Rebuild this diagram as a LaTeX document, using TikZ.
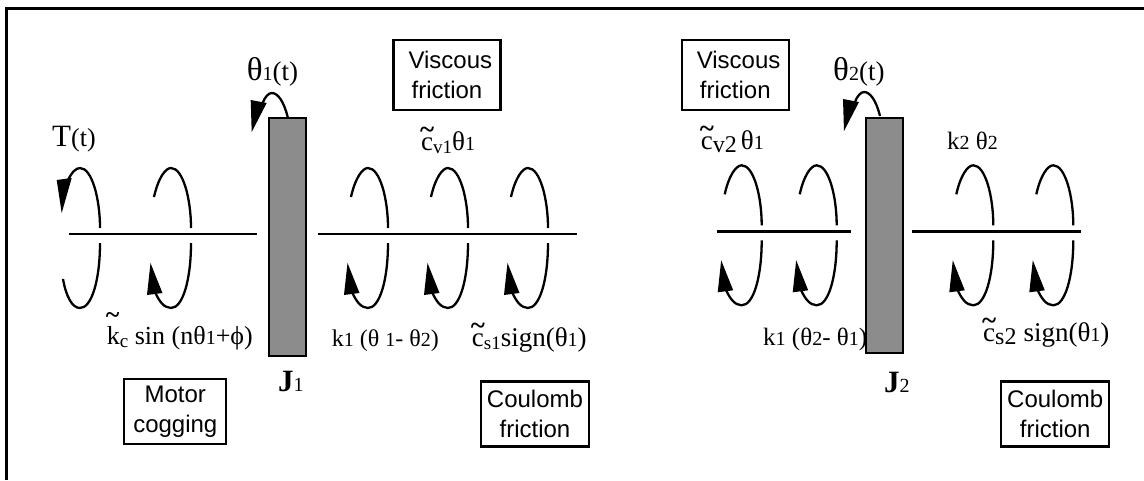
\documentclass[tikz,border=0pt]{standalone}
\usepackage{fontspec}
\setmainfont{Liberation Serif}
\newfontfamily\boxfont{Liberation Sans}
\usepackage{tikz}
\usetikzlibrary{calc}
\newcommand{\fs}[1]{\fontsize{#1}{#1}\selectfont}
\newcommand{\lowtxt}[2][19]{\raisebox{-3pt}{\fs{#1}#2}}
\newcommand{\digit}[1]{{\fs{20}#1}}
\newcommand{\wave}[2][12]{\makebox[0pt][l]{\hspace{-1pt}\raisebox{#1pt}{\textbf{\char"7E}}}#2}

\begin{document}
\begin{tikzpicture}[
    x=1pt, y=-1pt,
    lbl/.style     = {anchor=base west, inner sep=0pt, font=\fs{27}},
    labelbox/.style = {draw, line width=2.2pt, align=center, inner sep=0pt,
                      font=\boxfont\fontsize{24}{30}\selectfont},
    bar/.style     = {draw, line width=2.4pt, fill=black!45, inner sep=0pt,
                      minimum width=37pt},
    shaft/.style   = {line width=2.8pt},
    coilline/.style = {line width=2.3pt},
    coil/.pic      = {
      \draw[coilline] (-17,-37) .. controls (-13,-55) and (-6,-66) .. (0,-66)
        .. controls (12,-66) and (20,-35) .. (20,-6);
      \draw[coilline] (20,9) .. controls (20,45) and (12,74) .. (0,74)
        .. controls (-7,74) and (-12,67) .. (-16,58);
      \fill (-20.5,29) -- (-24,61) -- (-8.5,59) -- cycle;
    },
    torquecoil/.pic = {
      \draw[coilline] (-12,-54) .. controls (-8,-62) and (-4,-66) .. (0,-66)
        .. controls (12,-66) and (20,-35) .. (20,-6);
      \draw[coilline] (20,9) .. controls (20,45) and (12,74) .. (0,74)
        .. controls (-8,74) and (-14,62) .. (-17,45);
      \fill (-18.3,-21) -- (-23.3,-54) -- (-8.3,-56) -- cycle;
    },
    curl/.pic      = {
      \draw[coilline] (0,0) .. controls (-4,-16) and (-10,-24) .. (-16,-24)
        .. controls (-19,-24) and (-23,-20) .. (-25,-14);
      \fill (-36,15) -- (-37,-17) -- (-21,-14) -- cycle;
    },
  ]
  \useasboundingbox (0,0) rectangle (1144,480);

  %% Outer frame
  \coordinate (fa) at (6.5,480);
  \coordinate (fb) at (6.5,8.5);
  \coordinate (fc) at (1144,8.5);
  \draw[line width=3pt] (fa) -- (fb) -- (fc);

  %% Inertia bars
  \node[bar, minimum height=238pt] (J1) at (287.5,236.7) {};
  \node[bar, minimum height=235pt] (J2) at (884.5,235.2) {};

  %% Shafts
  \coordinate (s1a) at (69,234);    \coordinate (s1b) at (257,234);
  \coordinate (s2a) at (318,234);   \coordinate (s2b) at (577,234);
  \coordinate (s3a) at (717,231.3); \coordinate (s3b) at (851,231.3);
  \coordinate (s4a) at (912,231.3); \coordinate (s4b) at (1081,231.3);
  \draw[shaft] (s1a) -- (s1b);
  \draw[shaft] (s2a) -- (s2b);
  \draw[shaft] (s3a) -- (s3b);
  \draw[shaft] (s4a) -- (s4b);

  %% Coils
  \pic at (80,234) {torquecoil};
  \foreach \cx in {171,368,448,528}
    \pic at (\cx,234) {coil};
  \foreach \cx in {741.7,816.7,973.3,1053.3}
    \pic at (\cx,231.3) {coil};

  %% Rotation of the inertias
  \pic at (287.7,117) {curl};
  \pic at (880,116) {curl};

  %% Labels of the left half
  \node[lbl] (torque)  at (52,146.7)  {{\fs{31}T}{\fs{26}(t)}};
  \node[lbl] (theta1)  at (246.7,80)  {{\fs{33}θ}\digit{1}(t)};
  \node[lbl] (cv1)     at (421,150)   {\wave{c}\lowtxt{v1}θ\digit{1}};
  \node[lbl, font=\fs{26}] (kc) at (106.7,344) {\wave[21]{k}\lowtxt{c} sin (nθ\digit{1}+ϕ)};
  \node[lbl, font=\fs{24}] (k1a) at (331.7,346) {k\digit{1} (θ \digit{1}- θ\digit{2})};
  \node[lbl] (cs1)     at (471.7,346) {\wave{c}\lowtxt{s1}sign(θ\digit{1})};
  \node[lbl, font=\fs{31}] (inertia1) at (278,391.7) {\textbf{J}\digit{1}};

  %% Labels of the right half
  \node[lbl] (theta2)  at (833,80)    {{\fs{33}θ}\digit{2}(t)};
  \node[lbl] (cv2)     at (700.7,149) {\wave{c}\lowtxt[24]{v2}\hspace{4pt}θ\digit{1}};
  \node[lbl, font=\fs{25}] (k1b) at (763,345.7) {k\digit{1} (θ\digit{2}- θ\digit{1})};
  \node[lbl, font=\fs{25}] (k2)  at (947,149)   {k\digit{2} θ\digit{2}};
  \node[lbl] (cs2)     at (983,341.7) {\wave{c}\lowtxt[24]{s2}\hspace{7pt}sign(θ\digit{1})};
  \node[lbl, font=\fs{31}] (inertia2) at (884,392)  {\textbf{J}\digit{2}};

  %% Boxes
  \node[labelbox, minimum width=107pt, minimum height=70pt] (visc1) at (447,75)
    {\ Viscous\\friction};
  \node[labelbox, minimum width=107pt, minimum height=70pt] (visc2) at (735.3,75)
    {\ Viscous\\friction};
  \node[labelbox, minimum width=102pt, minimum height=65pt] (cog) at (175.3,411.5)
    {Motor\\cogging};
  \node[labelbox, minimum width=108pt, minimum height=65pt] (coul1) at (535,414)
    {Coulomb\\friction};
  \node[labelbox, minimum width=108pt, minimum height=65pt] (coul2) at (1055.2,414)
    {Coulomb\\friction};
\end{tikzpicture}
\end{document}
